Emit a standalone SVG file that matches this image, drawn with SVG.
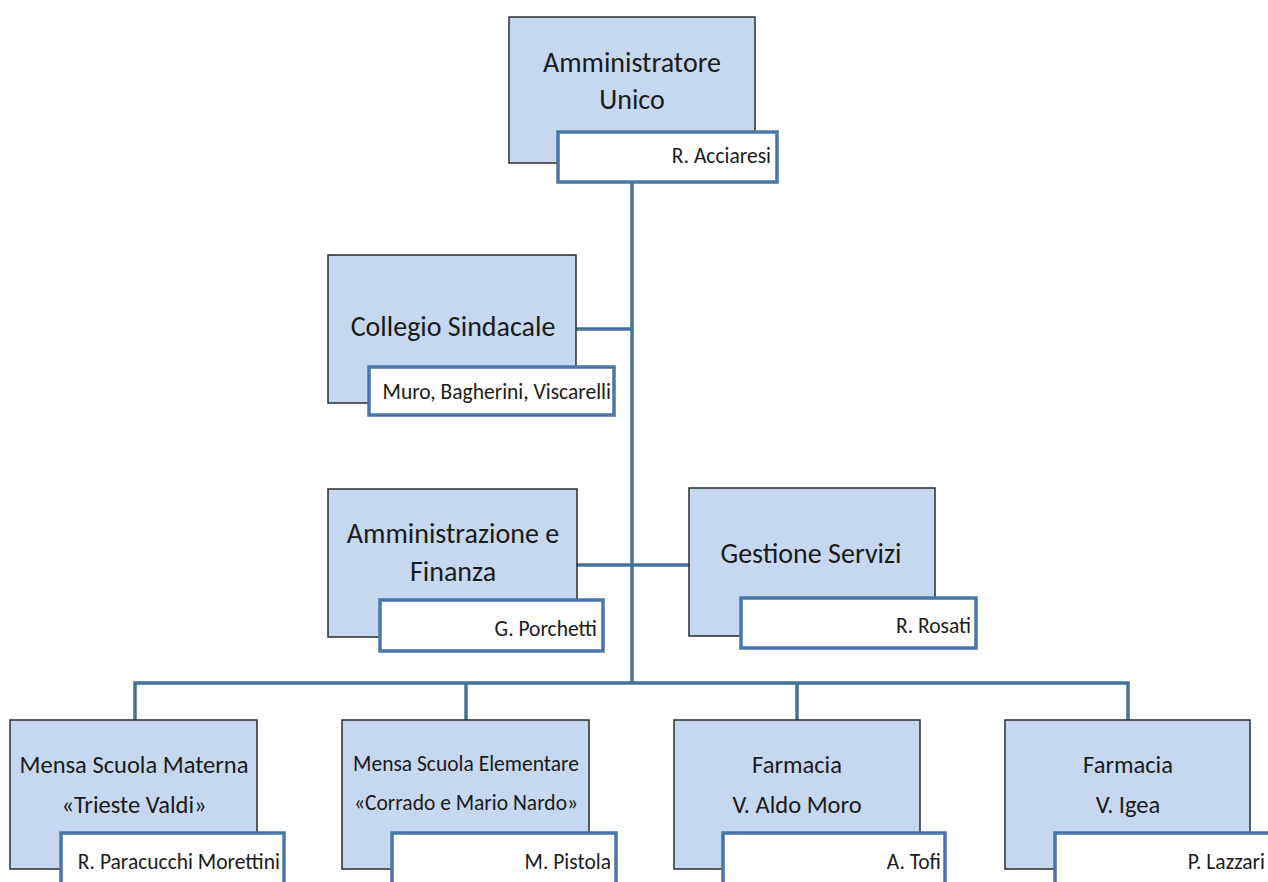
<svg xmlns="http://www.w3.org/2000/svg" width="1268" height="882" viewBox="0 0 1268 882">
<style>
.box{fill:#c6d8ef;stroke:#2b2b2b;stroke-width:1.5}
.nm{fill:#ffffff;stroke:#4a76a8;stroke-width:3.5}
.t{font-family:Carlito,Lato,"Liberation Sans",sans-serif;fill:#1a1a1a;text-anchor:middle}
.n{font-family:Carlito,Lato,"Liberation Sans",sans-serif;fill:#1a1a1a;text-anchor:end;font-size:21.5px}
.c{fill:none;stroke:#44709c;stroke-width:3.5}
</style>
<rect width="1268" height="882" fill="#ffffff"/>
<g id="connectors">
<path class="c" d="M632 183 V683"/>
<path class="c" d="M576 329 H632"/>
<path class="c" d="M577 565 H689"/>
<path class="c" d="M135 720 V683 H1128 V720"/>
<path class="c" d="M466 683 V720"/>
<path class="c" d="M797 683 V720"/>
</g>
<g id="n-amministratore">
<rect class="box" x="509" y="17" width="246" height="146"/>
<text class="t" x="632" y="72" font-size="28">Amministratore</text>
<text class="t" x="632" y="109" font-size="28">Unico</text>
<rect class="nm" x="558" y="132" width="219" height="50"/>
<text class="n" x="771" y="163">R. Acciaresi</text>
</g>
<g id="n-collegio">
<rect class="box" x="328" y="255" width="248" height="148"/>
<text class="t" x="453" y="336" font-size="28">Collegio Sindacale</text>
<rect class="nm" x="369" y="367" width="245" height="48"/>
<text class="n" x="611" y="399">Muro, Bagherini, Viscarelli</text>
</g>
<g id="n-amministrazione">
<rect class="box" x="328" y="489" width="249" height="148"/>
<text class="t" x="453" y="543" font-size="28">Amministrazione e</text>
<text class="t" x="453" y="581" font-size="28">Finanza</text>
<rect class="nm" x="380" y="600" width="223" height="51"/>
<text class="n" x="597" y="636">G. Porchetti</text>
</g>
<g id="n-gestione">
<rect class="box" x="689" y="488" width="246" height="148"/>
<text class="t" x="811" y="563" font-size="28">Gestione Servizi</text>
<rect class="nm" x="741" y="598" width="235" height="50"/>
<text class="n" x="971" y="633">R. Rosati</text>
</g>
<g id="n-materna">
<rect class="box" x="10" y="720" width="247" height="149"/>
<text class="t" x="134" y="773" font-size="24.5">Mensa Scuola Materna</text>
<text class="t" x="134" y="813" font-size="24.5">«Trieste Valdi»</text>
<rect class="nm" x="61" y="833" width="223" height="60"/>
<text class="n" x="280" y="869">R. Paracucchi Morettini</text>
</g>
<g id="n-elementare">
<rect class="box" x="342" y="720" width="247" height="149"/>
<text class="t" x="466" y="771" font-size="21.5">Mensa Scuola Elementare</text>
<text class="t" x="466" y="810" font-size="21.5">«Corrado e Mario Nardo»</text>
<rect class="nm" x="392" y="833" width="224" height="60"/>
<text class="n" x="611" y="869">M. Pistola</text>
</g>
<g id="n-aldomoro">
<rect class="box" x="674" y="720" width="246" height="149"/>
<text class="t" x="797" y="773" font-size="24.5">Farmacia</text>
<text class="t" x="797" y="813" font-size="24.5">V. Aldo Moro</text>
<rect class="nm" x="723" y="833" width="222" height="60"/>
<text class="n" x="941" y="869">A. Tofi</text>
</g>
<g id="n-igea">
<rect class="box" x="1005" y="720" width="245" height="149"/>
<text class="t" x="1128" y="773" font-size="24.5">Farmacia</text>
<text class="t" x="1128" y="813" font-size="24.5">V. Igea</text>
<rect class="nm" x="1055" y="833" width="230" height="60"/>
<text class="n" x="1265" y="869">P. Lazzari</text>
</g>
</svg>
